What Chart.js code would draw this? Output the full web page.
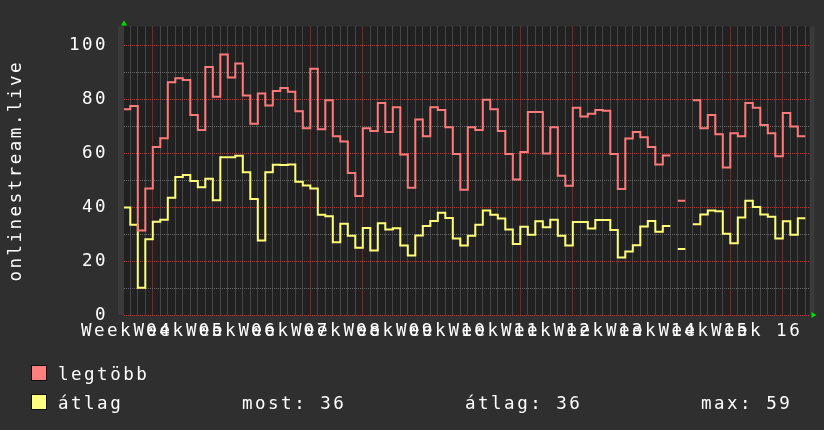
<!DOCTYPE html>
<html>
<head>
<meta charset="utf-8">
<script src="https://cdn.jsdelivr.net/npm/chart.js@4.4.1/dist/chart.umd.min.js"></script>
<style>
  html, body { margin: 0; padding: 0; background: #2f2f2f; }
  #wrap { position: relative; width: 824px; height: 430px; }
  #chart { position: absolute; left: 0; top: 0; }
  .leg { position: absolute; font-family: 'DejaVu Sans Mono', monospace; font-size: 17.5px; letter-spacing: 2.5px; color: #fff; line-height: 20px; white-space: pre; }
  .box { position: absolute; width: 14px; height: 14px; border: 1px solid #111; }
</style>
</head>
<body>
<div id="wrap">
  <canvas id="chart" width="824" height="430"></canvas>
  <div class="box" style="left:31px; top:365px; background:#ff7f7f;"></div>
  <div class="leg" style="left:58px; top:364px;">legtöbb</div>
  <div class="box" style="left:31px; top:394px; background:#ffff80;"></div>
  <div class="leg" style="left:58px; top:393px;">átlag</div>
  <div class="leg" style="left:242px; top:393px;" id="most"></div>
  <div class="leg" style="left:465px; top:393px;" id="atlag"></div>
  <div class="leg" style="left:701px; top:393px;" id="maxv"></div>
</div>
<script>
  // one value per day, day i spans [i-1, i]; null = no data
  const maxValues = [
    76.4, 77.6, 31.4, 47.0, 62.4, 65.6, 86.4, 87.9, 87.2, 74.2,
    68.7, 92.1, 81.0, 96.7, 88.2, 93.4, 81.5, 71.0, 82.2, 77.8,
    83.2, 84.3, 82.9, 75.6, 69.3, 91.4, 69.0, 79.7, 66.4, 64.4,
    52.7, 44.2, 69.3, 68.3, 78.7, 67.9, 77.1, 59.6, 47.2, 72.6,
    66.4, 77.1, 76.1, 69.7, 59.8, 46.5, 69.7, 68.7, 79.9, 76.4,
    68.3, 59.8, 50.3, 60.5, 75.4, 75.4, 60.0, 69.7, 51.7, 48.0,
    76.9, 73.7, 74.7, 76.1, 75.8, 59.8, 46.8, 65.5, 67.9, 66.0,
    62.4, 55.9, 59.2, null, 42.4, null, 79.7, 69.3, 74.2, 67.1,
    54.8, 67.5, 66.4, 78.7, 76.9, 70.5, 67.5, 58.9, 75.0, 70.0,
    66.4
  ];
  const avgValues = [
    39.9, 33.5, 10.1, 28.1, 34.6, 35.4, 43.5, 51.2, 52.0, 49.7,
    47.4, 50.6, 42.6, 58.6, 58.6, 59.1, 53.0, 43.1, 27.7, 53.0,
    55.8, 55.7, 55.9, 49.5, 48.1, 47.0, 37.2, 36.7, 27.0, 33.9,
    29.4, 25.0, 32.3, 23.9, 34.1, 31.7, 32.2, 25.8, 22.1, 29.5,
    33.0, 34.9, 38.0, 36.0, 28.4, 25.8, 29.4, 33.5, 38.8, 37.2,
    35.8, 31.7, 26.4, 32.8, 29.8, 34.8, 32.6, 35.4, 29.4, 25.8,
    34.5, 34.5, 32.1, 35.3, 35.3, 31.6, 21.3, 23.6, 25.9, 32.9,
    34.9, 30.9, 33.0, null, 24.5, null, 33.7, 37.3, 38.8, 38.5,
    30.2, 26.6, 36.2, 42.4, 40.1, 37.3, 36.5, 28.4, 34.8, 29.8,
    35.9
  ];
  const weekLabels = ['Week 04', 'Week 05', 'Week 06', 'Week 07', 'Week 08', 'Week 09', 'Week 10',
                      'Week 11', 'Week 12', 'Week 13', 'Week 14', 'Week 15', 'Week 16'];
  const seriesNames = ['legtöbb', 'átlag'];
  const statLabels = ['most', 'átlag', 'max'];
  const statValues = [36, 36, 59];

  const WEEK_START = 3;   // day index of first week boundary
  const X_MIN = -0.84, X_MAX = 90.56;
  const Y_MAX = 107.1;

  const FONT = { family: 'DejaVu Sans Mono', size: 17.5 };
  const MINOR = '#6c6c6c';
  const MAJOR = '#a84040';

  document.getElementById('most').textContent = statLabels[0] + ': ' + statValues[0];
  document.getElementById('atlag').textContent = statLabels[1] + ': ' + statValues[1];
  document.getElementById('maxv').textContent = statLabels[2] + ': ' + statValues[2];

  function stepPoints(values) {
    const pts = [];
    values.forEach((v, i) => {
      pts.push({ x: i - 1, y: v });
      pts.push({ x: i, y: v });
    });
    return pts;
  }

  function isWeek(v) {
    return v >= WEEK_START && (v - WEEK_START) % 7 === 0;
  }

  const frame = {
    id: 'frame',
    beforeDraw(chart) {
      const { ctx, chartArea: a } = chart;
      ctx.letterSpacing = '2.5px';
      ctx.save();
      ctx.fillStyle = '#3a3a3a';
      ctx.fillRect(a.left - 6, a.top, 6, a.bottom - a.top);
      ctx.fillRect(a.right, a.top, 5, a.bottom - a.top);
      ctx.fillStyle = '#212121';
      ctx.fillRect(a.left, a.top, a.right - a.left, a.bottom - a.top);
      ctx.restore();
    },
    afterDraw(chart) {
      const { ctx, chartArea: a } = chart;
      ctx.save();
      ctx.fillStyle = '#00dd00';
      ctx.beginPath();
      ctx.moveTo(a.left - 3, a.top - 1);
      ctx.lineTo(a.left + 3, a.top - 1);
      ctx.lineTo(a.left, a.top - 6);
      ctx.fill();
      ctx.beginPath();
      ctx.moveTo(a.right + 2, a.bottom - 3);
      ctx.lineTo(a.right + 2, a.bottom + 3);
      ctx.lineTo(a.right + 7, a.bottom);
      ctx.fill();
      ctx.restore();
    }
  };

  const dayTicks = [];
  for (let d = 0; d <= 90; d++) dayTicks.push(d);
  const yTicks = [];
  for (let v = 0; v <= 106; v += 2) yTicks.push(v);

  new Chart(document.getElementById('chart'), {
    type: 'line',
    data: {
      datasets: [
        { label: seriesNames[0], data: stepPoints(maxValues), borderColor: '#ff7a7a', borderWidth: 2 },
        { label: seriesNames[1], data: stepPoints(avgValues), borderColor: '#ffff7a', borderWidth: 2 }
      ]
    },
    options: {
      responsive: false,
      animation: false,
      spanGaps: false,
      layout: { padding: { left: 0, top: 13.5, right: 14.5, bottom: 0 } },
      elements: {
        point: { radius: 0 },
        line: { tension: 0, borderJoinStyle: 'miter', fill: false }
      },
      plugins: { legend: { display: false }, tooltip: { enabled: false } },
      scales: {
        x: {
          type: 'linear',
          min: X_MIN,
          max: X_MAX,
          afterBuildTicks: s => { s.ticks = dayTicks.map(v => ({ value: v })); },
          afterFit: s => { s.height = 115; },
          grid: {
            color: ctx => isWeek(ctx.tick.value) ? MAJOR : MINOR,
            drawTicks: false,
            lineWidth: 1
          },
          border: { display: false, dash: [1, 1] },
          ticks: {
            autoSkip: false,
            maxRotation: 0,
            minRotation: 0,
            labelOffset: -26.25,
            padding: 6,
            color: '#ffffff',
            font: FONT,
            callback: v => isWeek(v) ? weekLabels[(v - WEEK_START) / 7] : ''
          }
        },
        y: {
          min: 0,
          max: Y_MAX,
          afterBuildTicks: s => { s.ticks = yTicks.map(v => ({ value: v })); },
          afterFit: s => { s.width = 124; },
          grid: {
            color: ctx => ctx.tick.value % 20 === 0 ? MAJOR : MINOR,
            drawTicks: false,
            lineWidth: 1
          },
          border: { display: false, dash: [1, 1] },
          ticks: {
            padding: 16,
            color: '#ffffff',
            font: FONT,
            callback: v => v % 20 === 0 ? String(v) : ''
          },
          title: {
            display: true,
            text: 'onlinestream.live',
            color: '#ffffff',
            font: FONT,
            padding: { top: 6, bottom: 0 }
          }
        }
      }
    },
    plugins: [frame]
  });
</script>
</body>
</html>
